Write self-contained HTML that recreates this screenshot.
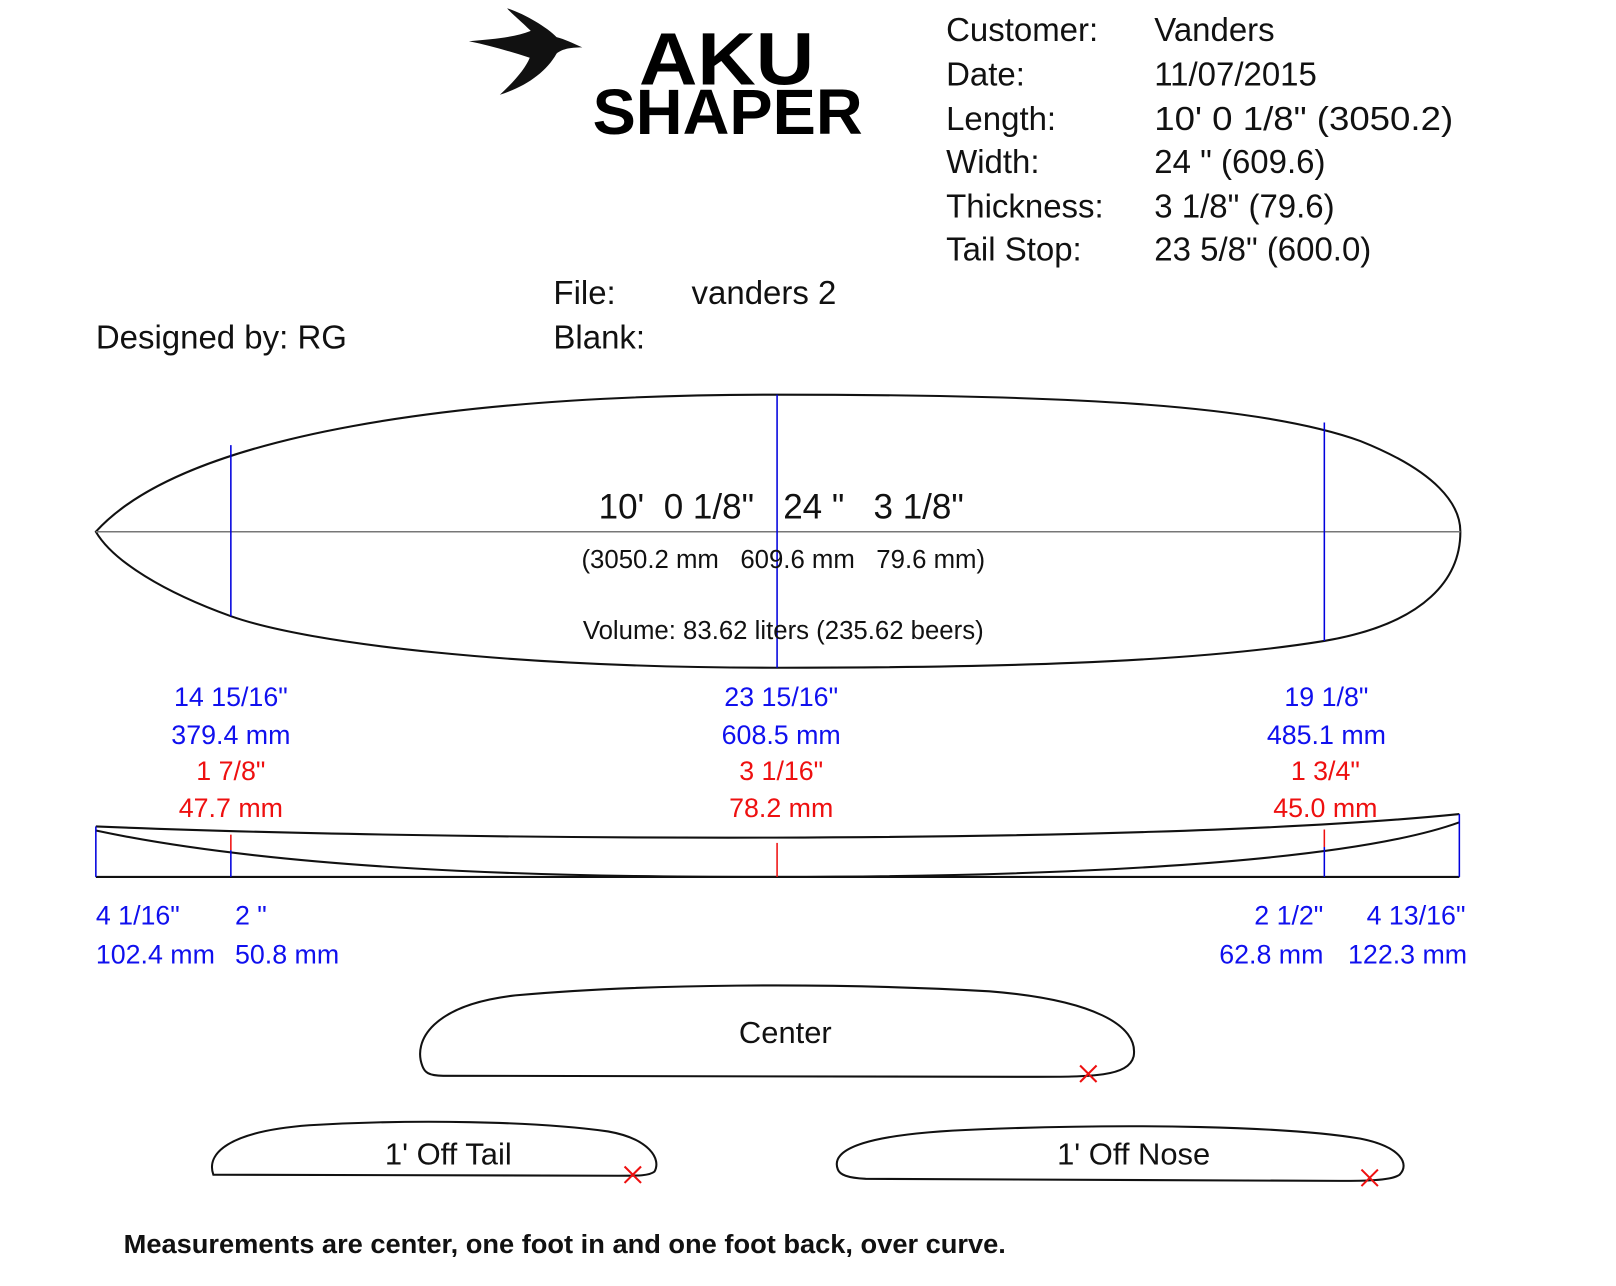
<!DOCTYPE html>
<html><head><meta charset="utf-8"><style>
html,body{margin:0;padding:0;background:#fff;}
svg{display:block;}
text{font-family:"Liberation Sans",Arial,sans-serif;}
</style></head><body>
<svg width="1616" height="1286" viewBox="0 0 1568 1248" preserveAspectRatio="none" xmlns="http://www.w3.org/2000/svg">
<rect width="1568" height="1248" fill="#fff"/>
<!-- bird -->
<path d="M455,40 C480,38 500,36 515,30 C505,20 495,12 492,8 C510,14 530,26 540,36 C548,38 556,42 565,46 C552,46 545,48 540,52 C530,70 510,84 485,92 C500,78 510,66 514,56 C495,50 475,44 455,40 Z" fill="#111"/>
<text x="620" y="82" font-size="72" font-weight="bold" textLength="170" lengthAdjust="spacingAndGlyphs">AKU</text>
<text x="575" y="130" font-size="62" font-weight="bold" textLength="262" lengthAdjust="spacingAndGlyphs">SHAPER</text>
<g font-size="32" fill="#111">
<text x="918" y="40">Customer:</text><text x="1120" y="40">Vanders</text>
<text x="918" y="83">Date:</text><text x="1120" y="83">11/07/2015</text>
<text x="918" y="126">Length:</text><text x="1120" y="126" textLength="290" lengthAdjust="spacingAndGlyphs">10'  0 1/8" (3050.2)</text>
<text x="918" y="168">Width:</text><text x="1120" y="168">24 " (609.6)</text>
<text x="918" y="211">Thickness:</text><text x="1120" y="211">3 1/8" (79.6)</text>
<text x="918" y="253">Tail Stop:</text><text x="1120" y="253">23 5/8" (600.0)</text>
<text x="537" y="295">File:</text><text x="671" y="295">vanders 2</text>
<text x="93" y="338">Designed by: RG</text>
<text x="537" y="338">Blank:</text>
</g>
<!-- outline -->
<path d="M93,516 C180,420 450,383 754,383 C1030,383 1220,392 1320,428 C1395,458 1417,490 1417,516 C1417,560 1385,605 1285,622 C1150,644 950,648 754,648 C500,648 300,625 224,598 C160,575 110,545 93,516 Z" fill="none" stroke="#111" stroke-width="2"/>
<line x1="93" y1="516" x2="1417" y2="516" stroke="#777" stroke-width="1.5"/>
<g stroke="#0000dd" stroke-width="1.5">
<line x1="224" y1="432" x2="224" y2="598"/>
<line x1="754" y1="383" x2="754" y2="648"/>
<line x1="1285" y1="410" x2="1285" y2="622"/>
</g>
<text x="758" y="503" font-size="34" text-anchor="middle" fill="#111" xml:space="preserve">10'  0 1/8"   24 "   3 1/8"</text>
<text x="760" y="551" font-size="25" text-anchor="middle" fill="#111" xml:space="preserve">(3050.2 mm   609.6 mm   79.6 mm)</text>
<text x="760" y="620" font-size="25" text-anchor="middle" fill="#111">Volume: 83.62 liters (235.62 beers)</text>
<g font-size="26" text-anchor="middle">
<g fill="#1010ee">
<text x="224" y="685">14 15/16"</text><text x="224" y="722">379.4 mm</text>
<text x="758" y="685">23 15/16"</text><text x="758" y="722">608.5 mm</text>
<text x="1287" y="685">19 1/8"</text><text x="1287" y="722">485.1 mm</text>
</g>
<g fill="#ee1010">
<text x="224" y="757">1 7/8"</text><text x="224" y="793">47.7 mm</text>
<text x="758" y="757">3 1/16"</text><text x="758" y="793">78.2 mm</text>
<text x="1286" y="757">1 3/4"</text><text x="1286" y="793">45.0 mm</text>
</g>
</g>
<!-- rocker -->
<path d="M93,802 C400,815 1100,822 1416,790" fill="none" stroke="#111" stroke-width="2"/>
<path d="M93,806 C300,850 600,851 754,851 C1000,851 1300,840 1416,798" fill="none" stroke="#111" stroke-width="2"/>
<line x1="93" y1="851" x2="1416" y2="851" stroke="#111" stroke-width="2"/>
<g stroke="#0000dd" stroke-width="1.5">
<line x1="93" y1="802" x2="93" y2="851"/>
<line x1="1416" y1="790" x2="1416" y2="851"/>
<line x1="224" y1="825" x2="224" y2="851"/>
<line x1="1285" y1="822" x2="1285" y2="851"/>
</g>
<g stroke="#ee1010" stroke-width="1.5">
<line x1="224" y1="810" x2="224" y2="825"/>
<line x1="754" y1="818" x2="754" y2="851"/>
<line x1="1285" y1="805" x2="1285" y2="822"/>
</g>
<g font-size="26" fill="#1010ee">
<text x="93" y="897">4 1/16"</text><text x="228" y="897">2 "</text>
<text x="93" y="935">102.4 mm</text><text x="228" y="935">50.8 mm</text>
<text x="1217" y="897">2 1/2"</text><text x="1326" y="897">4 13/16"</text>
<text x="1183" y="935">62.8 mm</text><text x="1308" y="935">122.3 mm</text>
</g>
<!-- cross sections -->
<g fill="none" stroke="#111" stroke-width="2">
<path d="M410,1035 C400,1010 420,975 500,966 C620,955 800,953 960,962 C1060,970 1105,995 1100,1025 C1095,1045 1060,1045 1000,1045 L430,1044 C415,1044 412,1040 410,1035 Z"/>
<path d="M207,1140 C200,1120 220,1098 300,1092 C400,1086 520,1088 590,1098 C630,1105 642,1125 635,1137 C630,1141 620,1141 600,1141 Z"/>
<path d="M813,1135 C805,1115 840,1100 950,1096 C1100,1090 1250,1093 1320,1105 C1360,1113 1368,1130 1358,1140 C1350,1146 1320,1146 1300,1146 L840,1144 C822,1143 815,1140 813,1135 Z"/>
</g>
<g stroke="#ee1010" stroke-width="2">
<path d="M1048,1034 L1064,1050 M1064,1034 L1048,1050"/>
<path d="M606,1132 L622,1148 M622,1132 L606,1148"/>
<path d="M1321,1135 L1337,1151 M1337,1135 L1321,1151"/>
</g>
<g font-size="30" fill="#111" text-anchor="middle">
<text x="762" y="1012">Center</text>
<text x="435" y="1130">1' Off Tail</text>
<text x="1100" y="1130">1' Off Nose</text>
</g>
<text x="120" y="1216" font-size="25" font-weight="bold" fill="#111" textLength="856" lengthAdjust="spacingAndGlyphs">Measurements are center, one foot in and one foot back, over curve.</text>
</svg>
</body></html>
